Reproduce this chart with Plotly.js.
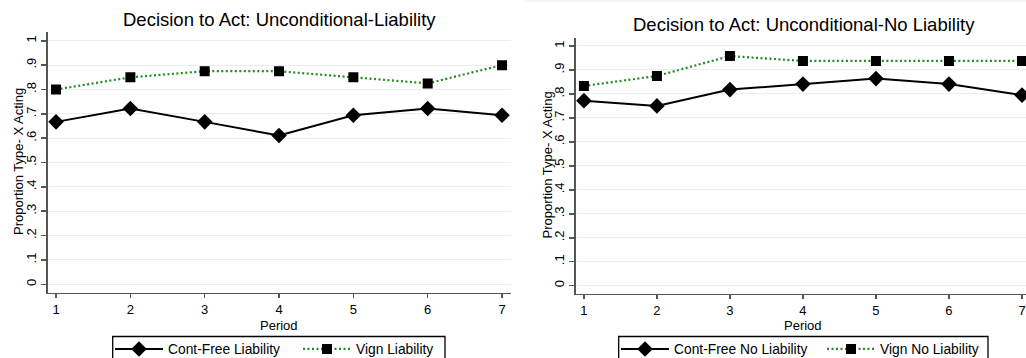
<!DOCTYPE html>
<html>
<head>
<meta charset="utf-8">
<script src="https://cdn.plot.ly/plotly-3.0.1.min.js"></script>
<style>html,body{margin:0;padding:0;background:#fff;}#chart{width:1026px;height:358px;}</style>
</head>
<body>
<div id="chart"></div>
<script>
const periods = [1, 2, 3, 4, 5, 6, 7];
const contFreeLiability = [0.667, 0.722, 0.667, 0.611, 0.694, 0.722, 0.694];
const vignLiability = [0.800, 0.850, 0.875, 0.875, 0.850, 0.825, 0.900];
const contFreeNoLiability = [0.772, 0.750, 0.818, 0.841, 0.864, 0.841, 0.795];
const vignNoLiability = [0.833, 0.875, 0.958, 0.9375, 0.9375, 0.9375, 0.9375];
const yTickVals = [0, 0.1, 0.2, 0.3, 0.4, 0.5, 0.6, 0.7, 0.8, 0.9, 1];
const yTickText = ['0', '.1', '.2', '.3', '.4', '.5', '.6', '.7', '.8', '.9', '1'];
const titles = ['Decision to Act: Unconditional-Liability', 'Decision to Act: Unconditional-No Liability'];
const xTitle = 'Period';
const yTitle = 'Proportion Type- X Acting';

const W = 1026, H = 358;
const px = v => v / W;
const py = v => 1 - v / H;

const FONT = 'Liberation Sans, Arial, sans-serif';
const GREEN = '#1e8c1e';
const solidLine = {color: '#000', width: 2};
const dotLine = {color: GREEN, width: 2.2, dash: '2px,2.5px'};
const diamond = {symbol: 'diamond', size: 12, color: '#000'};
const square = {symbol: 'square', size: 10, color: '#000'};

const traces = [
  {x: periods, y: contFreeLiability, name: 'Cont-Free Liability', mode: 'lines+markers', line: solidLine, marker: diamond, xaxis: 'x', yaxis: 'y', legend: 'legend'},
  {x: periods, y: vignLiability, name: 'Vign Liability', mode: 'lines+markers', line: dotLine, marker: square, xaxis: 'x', yaxis: 'y', legend: 'legend2'},
  {x: periods, y: contFreeNoLiability, name: 'Cont-Free No Liability', mode: 'lines+markers', line: solidLine, marker: diamond, xaxis: 'x2', yaxis: 'y2', legend: 'legend3'},
  {x: periods, y: vignNoLiability, name: 'Vign No Liability', mode: 'lines+markers', line: dotLine, marker: square, xaxis: 'x2', yaxis: 'y2', legend: 'legend4'}
];

function xAxis(domain, range, anchor) {
  return {
    domain: domain, range: range, anchor: anchor,
    tickvals: periods, ticks: 'outside', ticklen: 4, tickwidth: 1.5, tickcolor: '#555',
    ticklabelstandoff: 0,
    showline: true, linecolor: '#555', linewidth: 1.5, showgrid: false, zeroline: false,
    tickfont: {family: FONT, size: 13, color: '#000'}
  };
}
function yAxis(domain, range, anchor) {
  return {
    domain: domain, range: range, anchor: anchor,
    tickvals: yTickVals, ticktext: yTickText, tickangle: -90,
    ticks: 'outside', ticklen: 5, tickwidth: 1.5, tickcolor: '#555',
    showline: true, linecolor: '#555', linewidth: 1.5,
    showgrid: true, gridcolor: '#e9efef', gridwidth: 1, zeroline: false,
    tickfont: {family: FONT, size: 13, color: '#000'}
  };
}
// lineStart: pixel x where the legend sample line starts
function legendItem(lineStart) {
  return {
    x: px(lineStart - 8), y: py(349), xanchor: 'left', yanchor: 'middle', orientation: 'h',
    borderwidth: 0, bgcolor: 'rgba(0,0,0,0)',
    font: {family: FONT, size: 13.8, color: '#000'},
    itemwidth: 48
  };
}
function textAnn(text, xPix, yPix, size, angle) {
  return {text: text, x: px(xPix), y: py(yPix), xref: 'paper', yref: 'paper', xanchor: 'center', yanchor: 'middle',
          textangle: angle || 0, showarrow: false, borderpad: 0, font: {family: FONT, size: size, color: '#000'}};
}

const layout = {
  width: W, height: H,
  margin: {l: 0, r: 0, t: 0, b: 0, autoexpand: false},
  paper_bgcolor: '#fff', plot_bgcolor: '#fff',
  showlegend: true,
  xaxis: xAxis([0.0465, 0.498], [0.888, 7.12], 'y'),
  yaxis: yAxis([0.1824, 0.9106], [-0.0345, 1.036], 'x'),
  xaxis2: xAxis([0.561, 1.0], [0.886, 7.055], 'y2'),
  yaxis2: yAxis([0.1788, 0.893], [-0.0346, 1.032], 'x2'),
  legend: legendItem(118),
  legend2: legendItem(306),
  legend3: legendItem(624),
  legend4: legendItem(830),
  annotations: [
    textAnn(titles[0], 279, 19, 18.5),
    textAnn(titles[1], 803.5, 25, 18.5),
    textAnn(yTitle, 18.5, 161.5, 13, -90),
    textAnn(yTitle, 546.5, 165, 13, -90),
    textAnn(xTitle, 279.3, 325, 13),
    textAnn(xTitle, 803, 325.5, 13)
  ],
  shapes: [
    {type: 'line', xref: 'paper', yref: 'paper', x0: px(524), x1: 1, y0: py(1), y1: py(1), line: {color: '#eeeeee', width: 1}},
    {type: 'rect', xref: 'paper', yref: 'paper', x0: px(112.7), x1: px(445), y0: py(336.5), y1: py(370), line: {color: '#000', width: 1.3}, fillcolor: 'rgba(0,0,0,0)', layer: 'below'},
    {type: 'rect', xref: 'paper', yref: 'paper', x0: px(618.7), x1: px(988), y0: py(336.5), y1: py(370), line: {color: '#000', width: 1.3}, fillcolor: 'rgba(0,0,0,0)', layer: 'below'}
  ]
};

Plotly.newPlot('chart', traces, layout, {displayModeBar: false, staticPlot: true});
</script>
</body>
</html>
